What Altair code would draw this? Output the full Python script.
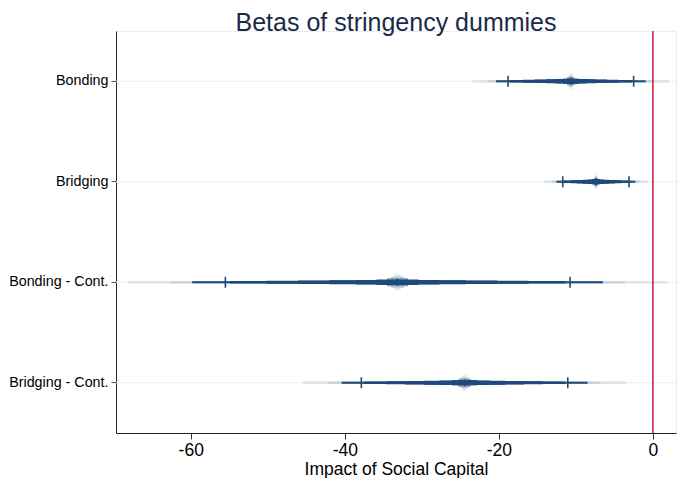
import altair as alt
import pandas as pd

# ---- data ----
labels = ["Bonding", "Bridging", "Bonding - Cont.", "Bridging - Cont."]
estimates = [-10.65, -7.4, -33.15, -24.45]
ci90_low = [-18.8, -11.7, -55.5, -37.85]
ci90_high = [-2.5, -3.1, -10.75, -11.05]
x_ticks = [-60, -40, -20, 0]

# ---- smoothed-CI styling: (z multiplier, stroke width, colour), drawn in order ----
outer_bands = [(2.576, 2.6, "#dde4ec"), (2.17, 2.6, "#cad4df")]
glow_bands = [(0.03, 16, "#e0e7ef"), (0.06, 11, "#b9c8d8"), (0.1, 8, "#859eb9")]
core_bands = [(1.96, 2.1), (1.6, 2.5), (1.25, 3.0), (0.95, 3.5),
              (0.65, 4.0), (0.4, 4.6), (0.2, 5.3)]
NAVY = "#1d4a78"
FONT = "Liberation Sans"

band_rows = []
order = 0
for group in (outer_bands, glow_bands, [(z, w, NAVY) for z, w in core_bands]):
    for z, w, c in group:
        for i, lab in enumerate(labels):
            se = (ci90_high[i] - ci90_low[i]) / (2 * 1.645)
            band_rows.append(dict(label=lab, lo=estimates[i] - z * se,
                                  hi=estimates[i] + z * se, w=w, c=c, o=order))
            order += 1
bands = pd.DataFrame(band_rows)

pts = pd.DataFrame({"label": labels, "est": estimates, "lo": ci90_low, "hi": ci90_high})
ticks = pd.DataFrame({"label": labels * 2, "x": ci90_low + ci90_high})
zero = pd.DataFrame({"x": [0]})

W, H = 560, 402
xscale = alt.Scale(domain=[-69.7, 3.0], nice=False, zero=False)
yscale = alt.Scale(type="band", domain=labels, paddingInner=0, paddingOuter=0)

xaxis = alt.Axis(values=x_ticks, labelExpr="'' + datum.value", grid=False,
                 labelFontSize=17.5, titleFontSize=17.5,
                 titleFontWeight="normal", labelFont=FONT, titleFont=FONT,
                 labelColor="#000", titleColor="#000", tickColor="#333", tickSize=6,
                 domainColor="#222", labelPadding=2, titlePadding=2)
yaxis = alt.Axis(title=None, grid=False, labelFontSize=14.3, labelFont=FONT, labelColor="#000",
                 tickColor="#555", tickSize=5, domainColor="#222", labelPadding=3)

grid = alt.Chart(pts).mark_rule(color="#e8eef3", strokeWidth=1).encode(
    y=alt.Y("label:N", scale=yscale, axis=yaxis, sort=labels),
    x=alt.value(0), x2=alt.value(W)
)

band_layer = alt.Chart(bands).mark_rule(strokeCap="butt").encode(
    y=alt.Y("label:N", scale=yscale, sort=labels),
    x=alt.X("lo:Q", scale=xscale, axis=xaxis, title="Impact of Social Capital"),
    x2="hi:Q",
    strokeWidth=alt.StrokeWidth("w:Q", scale=None),
    color=alt.Color("c:N", scale=None),
    order=alt.Order("o:Q"),
)

zero_line = alt.Chart(zero).mark_rule(color="#c8133b", strokeWidth=1.5).encode(
    x=alt.X("x:Q", scale=xscale)
)

tick_layer = alt.Chart(ticks).mark_tick(color=NAVY, thickness=1.6, size=11, opacity=1).encode(
    y=alt.Y("label:N", scale=yscale, sort=labels),
    x=alt.X("x:Q", scale=xscale),
)

point_layer = alt.Chart(pts).mark_point(shape="diamond", filled=True, size=60, color=NAVY,
                                        opacity=1).encode(
    y=alt.Y("label:N", scale=yscale, sort=labels),
    x=alt.X("est:Q", scale=xscale),
)

chart = alt.layer(grid, band_layer, zero_line, tick_layer, point_layer).properties(
    width=W, height=H,
    title=alt.TitleParams("Betas of stringency dummies", fontSize=25, font=FONT,
                          fontWeight="normal", color="#1b2a49", anchor="middle", offset=-6),
    autosize=alt.AutoSizeParams(type="none"),
    padding={"left": 108, "top": 23, "right": 1, "bottom": 45},
).configure_view(stroke="#e8eef3")

chart.save("out.html", embed_options={"renderer": "svg", "actions": False})
